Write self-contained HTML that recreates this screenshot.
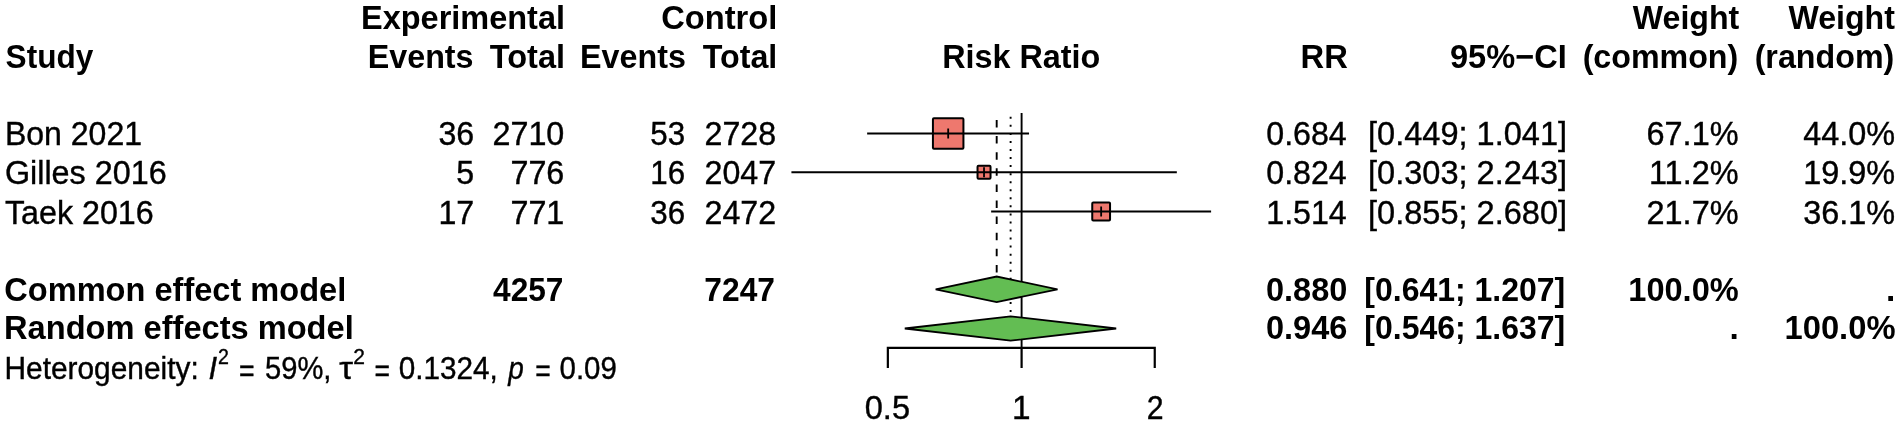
<!DOCTYPE html>
<html><head><meta charset="utf-8"><title>Forest plot</title>
<style>
html,body{margin:0;padding:0;background:#fff;}
svg{display:block;font-family:"Liberation Sans",sans-serif;fill:#000;}
</style></head><body>
<svg width="1900" height="426" viewBox="0 0 1900 426">
<defs><filter id="soft" x="0" y="0" width="1900" height="426" filterUnits="userSpaceOnUse"><feGaussianBlur stdDeviation="0.45"/></filter></defs>
<rect width="1900" height="426" fill="#fff"/>
<g filter="url(#soft)">
<g>
<line x1="1021.6" y1="113" x2="1021.6" y2="348" stroke="#000" stroke-width="1.9"/>
<line x1="996.69" y1="120" x2="996.69" y2="289" stroke="#000" stroke-width="1.9" stroke-dasharray="7.5 8.6"/>
<line x1="1010.61" y1="116.8" x2="1010.61" y2="328" stroke="#000" stroke-width="1.9" stroke-dasharray="2 6.05"/>
<rect x="932.93" y="118.25" width="30.5" height="30.5" fill="#ee786e" stroke="#000" stroke-width="2" rx="1"/>
<line x1="867.14" y1="133.5" x2="1029.04" y2="133.5" stroke="#000" stroke-width="1.9"/>
<line x1="948.18" y1="128.5" x2="948.18" y2="138.5" stroke="#000" stroke-width="1.8"/>
<rect x="977.53" y="165.80" width="13" height="13" fill="#ee786e" stroke="#000" stroke-width="2" rx="1"/>
<line x1="791.42" y1="172.3" x2="1176.83" y2="172.3" stroke="#000" stroke-width="1.9"/>
<line x1="984.03" y1="167.3" x2="984.03" y2="177.3" stroke="#000" stroke-width="1.8"/>
<rect x="1092.25" y="202.60" width="17.8" height="17.8" fill="#ee786e" stroke="#000" stroke-width="2" rx="1"/>
<line x1="991.14" y1="211.5" x2="1211.10" y2="211.5" stroke="#000" stroke-width="1.9"/>
<line x1="1101.15" y1="206.5" x2="1101.15" y2="216.5" stroke="#000" stroke-width="1.8"/>
<path d="M887.85 368V347.8H1154.75V368M1021.6 347.8V368" fill="none" stroke="#000" stroke-width="2.2"/>
<polygon points="935.68,289.3 996.69,276.5 1057.52,289.3 996.69,302.1" fill="#64bd52" stroke="#000" stroke-width="1.8" stroke-linejoin="miter"/>
<polygon points="904.79,328.5 1010.61,316.3 1116.19,328.5 1010.61,340.7" fill="#64bd52" stroke="#000" stroke-width="1.8" stroke-linejoin="miter"/>
</g>
<g>
<text x="5.60" y="67.50" textLength="87.69" lengthAdjust="spacingAndGlyphs" font-size="33.4" font-weight="700">Study</text>
<text x="361.05" y="28.80" textLength="203.96" lengthAdjust="spacingAndGlyphs" font-size="33.4" font-weight="700">Experimental</text>
<text x="367.77" y="67.50" textLength="105.78" lengthAdjust="spacingAndGlyphs" font-size="33.4" font-weight="700">Events</text>
<text x="489.80" y="67.50" textLength="75.22" lengthAdjust="spacingAndGlyphs" font-size="33.4" font-weight="700">Total</text>
<text x="661.22" y="28.80" textLength="116.11" lengthAdjust="spacingAndGlyphs" font-size="33.4" font-weight="700">Control</text>
<text x="580.07" y="67.50" textLength="105.78" lengthAdjust="spacingAndGlyphs" font-size="33.4" font-weight="700">Events</text>
<text x="702.70" y="67.50" textLength="74.60" lengthAdjust="spacingAndGlyphs" font-size="33.4" font-weight="700">Total</text>
<text x="942.16" y="67.50" textLength="158.22" lengthAdjust="spacingAndGlyphs" font-size="33.4" font-weight="700">Risk Ratio</text>
<text x="1300.54" y="67.50" textLength="47.27" lengthAdjust="spacingAndGlyphs" font-size="33.4" font-weight="700">RR</text>
<text x="1450.03" y="67.50" textLength="116.72" lengthAdjust="spacingAndGlyphs" font-size="33.4" font-weight="700">95%−CI</text>
<text x="1632.80" y="28.80" textLength="106.51" lengthAdjust="spacingAndGlyphs" font-size="33.4" font-weight="700">Weight</text>
<text x="1582.64" y="67.50" textLength="155.64" lengthAdjust="spacingAndGlyphs" font-size="33.4" font-weight="700">(common)</text>
<text x="1788.50" y="28.80" textLength="106.41" lengthAdjust="spacingAndGlyphs" font-size="33.4" font-weight="700">Weight</text>
<text x="1754.63" y="67.50" textLength="139.65" lengthAdjust="spacingAndGlyphs" font-size="33.4" font-weight="700">(random)</text>
<text x="4.88" y="144.90" textLength="137.23" lengthAdjust="spacingAndGlyphs" font-size="33.4" stroke="#000" stroke-width="0.4">Bon 2021</text>
<text x="4.93" y="183.50" textLength="161.72" lengthAdjust="spacingAndGlyphs" font-size="33.4" stroke="#000" stroke-width="0.4">Gilles 2016</text>
<text x="4.90" y="224.00" textLength="148.85" lengthAdjust="spacingAndGlyphs" font-size="33.4" stroke="#000" stroke-width="0.4">Taek 2016</text>
<text x="438.44" y="144.90" textLength="35.81" lengthAdjust="spacingAndGlyphs" font-size="33.4" stroke="#000" stroke-width="0.4">36</text>
<text x="492.43" y="144.90" textLength="71.92" lengthAdjust="spacingAndGlyphs" font-size="33.4" stroke="#000" stroke-width="0.4">2710</text>
<text x="650.26" y="144.90" textLength="34.87" lengthAdjust="spacingAndGlyphs" font-size="33.4" stroke="#000" stroke-width="0.4">53</text>
<text x="704.54" y="144.90" textLength="71.61" lengthAdjust="spacingAndGlyphs" font-size="33.4" stroke="#000" stroke-width="0.4">2728</text>
<text transform="translate(456.34 183.50) scale(0.9643 1)" font-size="33.4" stroke="#000" stroke-width="0.4">5</text>
<text x="510.41" y="183.50" textLength="53.94" lengthAdjust="spacingAndGlyphs" font-size="33.4" stroke="#000" stroke-width="0.4">776</text>
<text x="650.26" y="183.50" textLength="34.87" lengthAdjust="spacingAndGlyphs" font-size="33.4" stroke="#000" stroke-width="0.4">16</text>
<text x="704.54" y="183.50" textLength="71.61" lengthAdjust="spacingAndGlyphs" font-size="33.4" stroke="#000" stroke-width="0.4">2047</text>
<text x="438.44" y="224.00" textLength="35.81" lengthAdjust="spacingAndGlyphs" font-size="33.4" stroke="#000" stroke-width="0.4">17</text>
<text x="510.41" y="224.00" textLength="53.94" lengthAdjust="spacingAndGlyphs" font-size="33.4" stroke="#000" stroke-width="0.4">771</text>
<text x="650.26" y="224.00" textLength="34.87" lengthAdjust="spacingAndGlyphs" font-size="33.4" stroke="#000" stroke-width="0.4">36</text>
<text x="704.54" y="224.00" textLength="71.61" lengthAdjust="spacingAndGlyphs" font-size="33.4" stroke="#000" stroke-width="0.4">2472</text>
<text x="1266.24" y="144.90" textLength="80.51" lengthAdjust="spacingAndGlyphs" font-size="33.4" stroke="#000" stroke-width="0.4">0.684</text>
<text x="1368.05" y="144.90" textLength="199.07" lengthAdjust="spacingAndGlyphs" font-size="33.4" stroke="#000" stroke-width="0.4">[0.449; 1.041]</text>
<text x="1646.53" y="144.90" textLength="92.04" lengthAdjust="spacingAndGlyphs" font-size="33.4" stroke="#000" stroke-width="0.4">67.1%</text>
<text x="1803.30" y="144.90" textLength="91.87" lengthAdjust="spacingAndGlyphs" font-size="33.4" stroke="#000" stroke-width="0.4">44.0%</text>
<text x="1266.24" y="183.50" textLength="80.51" lengthAdjust="spacingAndGlyphs" font-size="33.4" stroke="#000" stroke-width="0.4">0.824</text>
<text x="1368.05" y="183.50" textLength="199.07" lengthAdjust="spacingAndGlyphs" font-size="33.4" stroke="#000" stroke-width="0.4">[0.303; 2.243]</text>
<text x="1648.94" y="183.50" textLength="89.63" lengthAdjust="spacingAndGlyphs" font-size="33.4" stroke="#000" stroke-width="0.4">11.2%</text>
<text x="1803.30" y="183.50" textLength="91.87" lengthAdjust="spacingAndGlyphs" font-size="33.4" stroke="#000" stroke-width="0.4">19.9%</text>
<text x="1266.24" y="224.00" textLength="80.51" lengthAdjust="spacingAndGlyphs" font-size="33.4" stroke="#000" stroke-width="0.4">1.514</text>
<text x="1368.05" y="224.00" textLength="199.07" lengthAdjust="spacingAndGlyphs" font-size="33.4" stroke="#000" stroke-width="0.4">[0.855; 2.680]</text>
<text x="1646.53" y="224.00" textLength="92.04" lengthAdjust="spacingAndGlyphs" font-size="33.4" stroke="#000" stroke-width="0.4">21.7%</text>
<text x="1803.30" y="224.00" textLength="91.87" lengthAdjust="spacingAndGlyphs" font-size="33.4" stroke="#000" stroke-width="0.4">36.1%</text>
<text x="4.32" y="301.00" textLength="341.90" lengthAdjust="spacingAndGlyphs" font-size="33.4" font-weight="700">Common effect model</text>
<text x="4.05" y="339.00" textLength="349.68" lengthAdjust="spacingAndGlyphs" font-size="33.4" font-weight="700">Random effects model</text>
<text x="493.10" y="301.40" textLength="70.34" lengthAdjust="spacingAndGlyphs" font-size="33.4" font-weight="700">4257</text>
<text x="704.35" y="301.40" textLength="70.59" lengthAdjust="spacingAndGlyphs" font-size="33.4" font-weight="700">7247</text>
<text x="1266.03" y="301.40" textLength="81.33" lengthAdjust="spacingAndGlyphs" font-size="33.4" font-weight="700">0.880</text>
<text x="1364.34" y="301.40" textLength="200.93" lengthAdjust="spacingAndGlyphs" font-size="33.4" font-weight="700">[0.641; 1.207]</text>
<text x="1628.35" y="301.40" textLength="110.32" lengthAdjust="spacingAndGlyphs" font-size="33.4" font-weight="700">100.0%</text>
<text x="1885.90" y="301.00" font-size="33.4" font-weight="700">.</text>
<text x="1266.03" y="339.40" textLength="81.33" lengthAdjust="spacingAndGlyphs" font-size="33.4" font-weight="700">0.946</text>
<text x="1364.34" y="339.40" textLength="200.93" lengthAdjust="spacingAndGlyphs" font-size="33.4" font-weight="700">[0.546; 1.637]</text>
<text x="1729.60" y="339.00" font-size="33.4" font-weight="700">.</text>
<text x="1784.54" y="339.40" textLength="110.93" lengthAdjust="spacingAndGlyphs" font-size="33.4" font-weight="700">100.0%</text>
<text x="4.47" y="378.50" textLength="194.24" lengthAdjust="spacingAndGlyphs" font-size="31.0" stroke="#000" stroke-width="0.4">Heterogeneity:</text>
<text x="208.40" y="378.50" font-size="31.0" stroke="#000" stroke-width="0.4" font-style="italic">I</text>
<text transform="translate(218.01 364.10) scale(0.8909 1)" font-size="22" stroke="#000" stroke-width="0.4">2</text>
<text transform="translate(238.94 380.50) scale(0.8625 1)" font-size="31.0" stroke="#000" stroke-width="0.4">=</text>
<text x="265.06" y="378.50" textLength="66.39" lengthAdjust="spacingAndGlyphs" font-size="31.0" stroke="#000" stroke-width="0.4">59%,</text>
<text transform="translate(339.30 378.50) scale(1.1250 1)" font-size="31.0" stroke="#000" stroke-width="0.4">τ</text>
<text transform="translate(353.15 364.10) scale(0.9545 1)" font-size="22" stroke="#000" stroke-width="0.4">2</text>
<text transform="translate(374.44 380.50) scale(0.8562 1)" font-size="31.0" stroke="#000" stroke-width="0.4">=</text>
<text x="398.64" y="378.50" textLength="99.06" lengthAdjust="spacingAndGlyphs" font-size="31.0" stroke="#000" stroke-width="0.4">0.1324,</text>
<text transform="translate(508.20 378.50) scale(0.9000 1)" font-size="31.0" stroke="#000" stroke-width="0.4" font-style="italic">p</text>
<text transform="translate(535.14 380.50) scale(0.8563 1)" font-size="31.0" stroke="#000" stroke-width="0.4">=</text>
<text x="559.55" y="378.50" textLength="57.33" lengthAdjust="spacingAndGlyphs" font-size="31.0" stroke="#000" stroke-width="0.4">0.09</text>
<text x="864.72" y="418.70" textLength="45.33" lengthAdjust="spacingAndGlyphs" font-size="33.4" stroke="#000" stroke-width="0.4">0.5</text>
<text x="1012.10" y="418.70" font-size="33.4" stroke="#000" stroke-width="0.4">1</text>
<text transform="translate(1146.79 418.70) scale(0.9062 1)" font-size="33.4" stroke="#000" stroke-width="0.4">2</text>
</g>
</g>
</svg>
</body></html>
